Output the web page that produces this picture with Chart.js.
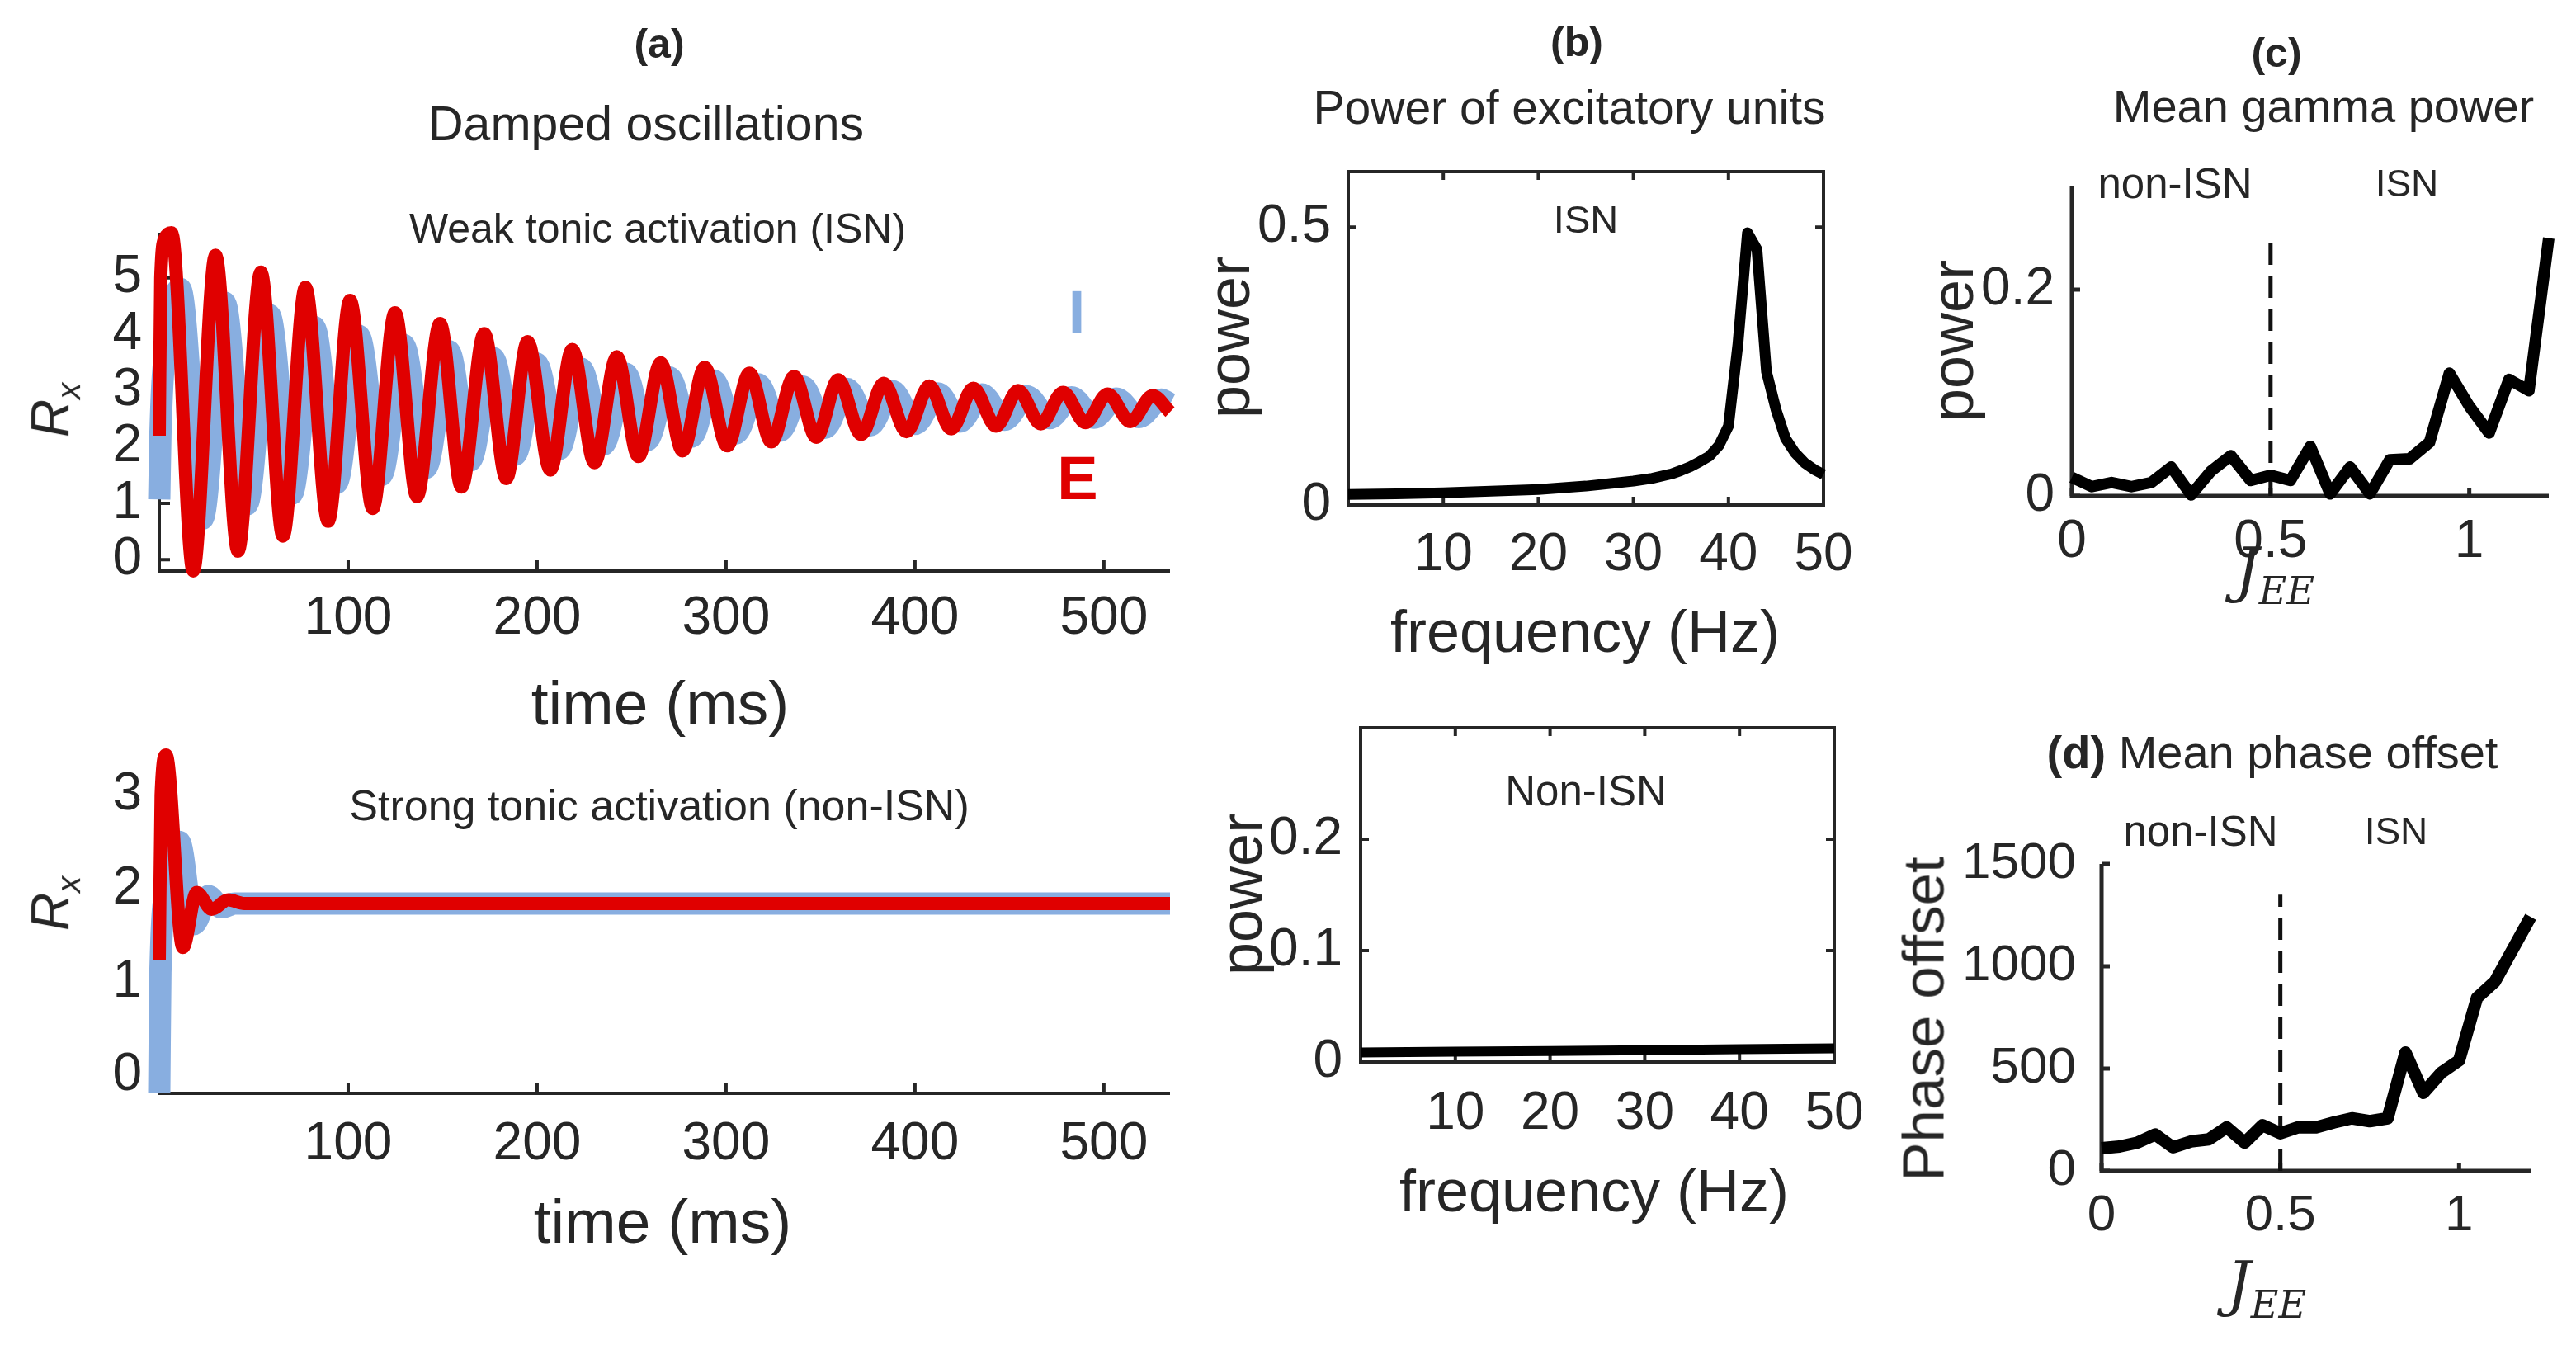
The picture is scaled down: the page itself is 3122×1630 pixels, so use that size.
<!DOCTYPE html>
<html>
<head>
<meta charset="utf-8">
<script src="https://cdn.jsdelivr.net/npm/chart.js@4.4.1/dist/chart.umd.min.js"></script>
<style>
  body { margin: 0; background: #fff; }
  #fig { position: relative; width: 3122px; height: 1630px; overflow: hidden;
         font-family: 'Liberation Sans', Arial, sans-serif; color: #262626; }
  canvas { position: absolute; }
  .t { position: absolute; transform: translate(-50%, -50%); white-space: nowrap; line-height: 1; }
  .rot { transform: translate(-50%, -50%) rotate(-90deg); }
  .j { font-family: 'DejaVu Serif', 'Liberation Serif', serif; font-style: italic; }
  sub { line-height: 1; }
</style>
</head>
<body>
<div id="fig">
  <canvas id="weak" width="1460" height="560" style="left:0;top:250px"></canvas>
  <canvas id="strong" width="1460" height="560" style="left:0;top:880px"></canvas>
  <canvas id="specISN" width="840" height="520" style="left:1440px;top:180px"></canvas>
  <canvas id="specNon" width="840" height="540" style="left:1440px;top:850px"></canvas>
  <canvas id="gamma" width="822" height="520" style="left:2300px;top:190px"></canvas>
  <canvas id="phase" width="822" height="520" style="left:2300px;top:1010px"></canvas>

  <!-- (a) -->
  <div class="t" style="left:799px;top:53px;font-size:50px;font-weight:bold">(a)</div>
  <div class="t" style="left:783px;top:150px;font-size:59px">Damped oscillations</div>
  <div class="t" style="left:797px;top:277px;font-size:50px">Weak tonic activation (ISN)</div>
  <div class="t" style="left:1305px;top:379px;font-size:74px;font-weight:bold;color:#88aee0">I</div>
  <div class="t" style="left:1306px;top:580px;font-size:74px;font-weight:bold;color:#e00000">E</div>
  <div class="t rot" style="left:66px;top:497px;font-size:64px"><i>R</i><sub style="font-size:40px"><i>x</i></sub></div>
  <div class="t" style="left:800px;top:852px;font-size:75px">time (ms)</div>
  <div class="t" style="left:799px;top:976px;font-size:52px">Strong tonic activation (non-ISN)</div>
  <div class="t rot" style="left:66px;top:1095px;font-size:64px"><i>R</i><sub style="font-size:40px"><i>x</i></sub></div>
  <div class="t" style="left:803px;top:1480px;font-size:75px">time (ms)</div>

  <!-- (b) -->
  <div class="t" style="left:1911px;top:51px;font-size:50px;font-weight:bold">(b)</div>
  <div class="t" style="left:1902px;top:130px;font-size:57px">Power of excitatory units</div>
  <div class="t" style="left:1922px;top:265px;font-size:47px">ISN</div>
  <div class="t rot" style="left:1489px;top:409px;font-size:72px">power</div>
  <div class="t" style="left:1921px;top:765px;font-size:72px">frequency (Hz)</div>
  <div class="t" style="left:1922px;top:958px;font-size:51px">Non-ISN</div>
  <div class="t rot" style="left:1504px;top:1084px;font-size:72px">power</div>
  <div class="t" style="left:1932px;top:1443px;font-size:72px">frequency (Hz)</div>

  <!-- (c) -->
  <div class="t" style="left:2759px;top:64px;font-size:50px;font-weight:bold">(c)</div>
  <div class="t" style="left:2816px;top:129px;font-size:56px">Mean gamma power</div>
  <div class="t" style="left:2636px;top:222px;font-size:51px">non-ISN</div>
  <div class="t" style="left:2917px;top:222px;font-size:46px">ISN</div>
  <div class="t rot" style="left:2366px;top:413px;font-size:72px">power</div>
  <div class="t j" style="left:2757px;top:697px;font-size:72px">J<sub style="font-size:46px">EE</sub></div>

  <!-- (d) -->
  <div class="t" style="left:2754px;top:912px;font-size:56px"><b>(d)</b> Mean phase offset</div>
  <div class="t" style="left:2667px;top:1007px;font-size:51px">non-ISN</div>
  <div class="t" style="left:2904px;top:1007px;font-size:46px">ISN</div>
  <div class="t rot" style="left:2331px;top:1235px;font-size:71px">Phase offset</div>
  <div class="t j" style="left:2747px;top:1562px;font-size:72px">J<sub style="font-size:46px">EE</sub></div>
</div>

<script>
// (a) weak tonic activation (ISN), peaks and troughs
const weakTimeE = [0, 0.8, 3, 6.5, 18, 29.8, 41.7, 53.8, 65.5, 77.4, 89.4, 101, 113, 124.8, 136.4, 148.6, 160, 172, 183.7, 195, 207, 218.6, 230.4, 242.2, 253.6, 265.4, 277, 288.7, 300.6, 312.4, 324, 336, 347.8, 359.4, 371.5, 383.5, 395.5, 407.6, 419.2, 430.9, 442.9, 454.6, 466.6, 478.4, 490.3, 502, 514, 525.8, 535]
const weakRateE = [2.2, 5.0, 5.7, 5.8, -0.2, 5.4, 0.15, 5.1, 0.42, 4.83, 0.68, 4.6, 0.91, 4.38, 1.12, 4.19, 1.29, 4.01, 1.44, 3.87, 1.59, 3.73, 1.72, 3.6, 1.83, 3.49, 1.93, 3.41, 2.02, 3.31, 2.09, 3.25, 2.17, 3.19, 2.22, 3.13, 2.27, 3.08, 2.32, 3.04, 2.37, 3.0, 2.41, 2.97, 2.43, 2.94, 2.45, 2.91, 2.62]
const weakTimeI = [0, 0.6, 4, 11, 22.8, 34.5, 46.3, 58.2, 70, 81.8, 93.7, 105.5, 117.4, 129.2, 141, 153.1, 164.5, 176.5, 188.2, 199.5, 211.5, 223.1, 234.9, 246.7, 258.1, 269.9, 281.5, 293.2, 305.1, 316.9, 328.5, 340.5, 352.3, 363.9, 376, 388, 400, 412.1, 423.7, 435.4, 447.4, 459.1, 471.1, 482.9, 494.8, 506.5, 518.5, 530.3, 535]
const weakRateI = [1.07, 2.2, 3.9, 4.8, 0.73, 4.56, 0.98, 4.34, 1.17, 4.13, 1.36, 3.97, 1.5, 3.81, 1.63, 3.70, 1.76, 3.58, 1.86, 3.48, 1.96, 3.39, 2.04, 3.30, 2.12, 3.23, 2.18, 3.18, 2.24, 3.11, 2.29, 3.07, 2.34, 3.03, 2.38, 2.99, 2.41, 2.95, 2.45, 2.93, 2.48, 2.90, 2.51, 2.88, 2.52, 2.86, 2.53, 2.84, 2.76]

// (a) strong tonic activation (non-ISN)
const strongTimeE = [0, 1, 3.6, 12.5, 19.8, 27.8, 36.5, 45, 535]
const strongRateE = [1.24, 3.0, 3.43, 1.37, 1.96, 1.78, 1.88, 1.84, 1.84]
const strongTimeI = [0, 0.6, 4, 10.5, 18.3, 26, 33, 40, 535]
const strongRateI = [-0.19, 1.1, 2.0, 2.5, 1.62, 1.92, 1.8, 1.84, 1.84]

const timeTicks = [100, 200, 300, 400, 500]
const weakRateTicks = [0, 1, 2, 3, 4, 5]
const strongRateTicks = [0, 1, 2, 3]

// (b) power spectra
const freqISN = [0, 5, 10, 15, 20, 25, 30, 32, 34, 35, 36, 37, 38, 39, 40, 41, 42, 43, 44, 45, 46, 47, 48, 49, 50]
const powerISN = [0.019, 0.020, 0.022, 0.025, 0.028, 0.034, 0.043, 0.048, 0.056, 0.062, 0.069, 0.078, 0.088, 0.107, 0.142, 0.29, 0.49, 0.46, 0.24, 0.172, 0.12, 0.094, 0.076, 0.064, 0.055]
const freqNonISN = [0, 10, 20, 30, 40, 50]
const powerNonISN = [0.0085, 0.0092, 0.0099, 0.0106, 0.0114, 0.0122]
const freqTicks = [10, 20, 30, 40, 50]
const powerTicksISN = [0, 0.5]
const powerTicksNon = [0, 0.1, 0.2]

// (c), (d) sweep over J_EE
const jee = [0, 0.05, 0.1, 0.15, 0.2, 0.25, 0.3, 0.35, 0.4, 0.45, 0.5, 0.55, 0.6, 0.65, 0.7, 0.75, 0.8, 0.85, 0.9, 0.95, 1.0, 1.05, 1.1, 1.15, 1.2]
const gammaPower = [0.018, 0.009, 0.013, 0.009, 0.013, 0.028, 0.001, 0.024, 0.039, 0.015, 0.02, 0.015, 0.048, 0.002, 0.028, 0.002, 0.035, 0.036, 0.052, 0.119, 0.087, 0.061, 0.113, 0.102, 0.25]
const phaseOffset = [111, 119, 138, 178, 115, 144, 154, 213, 138, 223, 184, 213, 213, 237, 257, 243, 257, 579, 381, 480, 540, 846, 925, 1083, 1241]
const jeeTicks = [0, 0.5, 1]
const gammaTicks = [0, 0.2]
const phaseTicks = [0, 500, 1000, 1500]
const boundaryJ = [0.5, 0.5]
const boundaryGamma = [0, 0.252]
const boundaryPhase = [0, 1350]

const RED = '#e00000'
const BLUE = '#88aee0'
const AXIS = '#262626'

// matlab style axes: inward ticks, optional box, drawn under the data
const matlabAxes = {
  id: 'matlabAxes',
  beforeDatasetsDraw(chart, args, opts) {
    const { ctx, chartArea: a, scales: { x, y } } = chart
    ctx.save()
    ctx.strokeStyle = AXIS
    ctx.lineWidth = opts.width
    ctx.beginPath()
    if (opts.box) {
      ctx.rect(a.left, a.top, a.right - a.left, a.bottom - a.top)
    } else {
      ctx.moveTo(a.left, a.top)
      ctx.lineTo(a.left, a.bottom)
      ctx.lineTo(a.right, a.bottom)
    }
    ctx.stroke()
    ctx.beginPath()
    x.ticks.forEach(t => {
      const px = x.getPixelForValue(t.value)
      ctx.moveTo(px, a.bottom)
      ctx.lineTo(px, a.bottom - opts.tickLen)
      if (opts.box) {
        ctx.moveTo(px, a.top)
        ctx.lineTo(px, a.top + opts.tickLen)
      }
    })
    y.ticks.forEach(t => {
      const py = y.getPixelForValue(t.value)
      ctx.moveTo(a.left, py)
      ctx.lineTo(a.left + opts.tickLen, py)
      if (opts.box) {
        ctx.moveTo(a.right, py)
        ctx.lineTo(a.right - opts.tickLen, py)
      }
    })
    ctx.stroke()
    ctx.restore()
  }
}

function series(xs, ys, color, width, extra) {
  return Object.assign({
    data: xs.map((x, i) => ({ x: x, y: ys[i] })),
    borderColor: color,
    borderWidth: width,
    pointRadius: 0,
    fill: false,
    clip: false,
    tension: 0,
    borderJoinStyle: 'round'
  }, extra || {})
}

// fixed size scale, no automatic label padding, so the plot box lands where it should
function fixSize(s, prop, size) {
  s[prop] = size
  s.paddingLeft = 0
  s.paddingRight = 0
  s.paddingTop = 0
  s.paddingBottom = 0
}

function scaleOpts(min, max, ticks, size, pad, fit) {
  return {
    type: 'linear',
    min: min,
    max: max,
    grid: { display: false, drawTicks: false },
    border: { display: false },
    ticks: { font: { size: size }, color: AXIS, padding: pad, maxRotation: 0, autoSkip: false, callback: v => String(v) },
    afterBuildTicks: s => { s.ticks = ticks.map(v => ({ value: v })) },
    afterFit: fit
  }
}

function axisChart(id, c) {
  return new Chart(document.getElementById(id), {
    type: 'line',
    data: { datasets: c.datasets },
    options: {
      animation: false,
      responsive: false,
      devicePixelRatio: 1,
      events: [],
      layout: { autoPadding: false, padding: { top: c.padTop, right: c.padRight, left: 0, bottom: 0 } },
      plugins: {
        legend: { display: false },
        tooltip: { enabled: false },
        matlabAxes: { box: c.box, tickLen: c.tickLen, width: c.axisWidth }
      },
      scales: {
        x: scaleOpts(c.x[0], c.x[1], c.xTicks, c.fontSize, c.xPad, s => fixSize(s, 'height', c.xHeight)),
        y: scaleOpts(c.y[0], c.y[1], c.yTicks, c.fontSize, c.yPad, s => fixSize(s, 'width', c.yWidth))
      }
    },
    plugins: [matlabAxes]
  })
}

Chart.defaults.font.family = "'Liberation Sans', Arial, sans-serif"
const smooth = { cubicInterpolationMode: 'monotone', tension: 0.4 }

axisChart('weak', {
  datasets: [
    series(weakTimeE, weakRateE, RED, 16, smooth),
    series(weakTimeI, weakRateI, BLUE, 27, smooth)
  ],
  x: [0, 535], y: [-0.2, 5.8], xTicks: timeTicks, yTicks: weakRateTicks,
  fontSize: 64, xPad: 20, yPad: 21, yWidth: 193, xHeight: 118, padTop: 32, padRight: 42,
  box: false, tickLen: 13, axisWidth: 4
})

axisChart('strong', {
  datasets: [
    series(strongTimeE, strongRateE, RED, 16, smooth),
    series(strongTimeI, strongRateI, BLUE, 27, smooth)
  ],
  x: [0, 535], y: [-0.19, 3.43], xTicks: timeTicks, yTicks: strongRateTicks,
  fontSize: 64, xPad: 24, yPad: 21, yWidth: 193, xHeight: 115, padTop: 35, padRight: 42,
  box: false, tickLen: 13, axisWidth: 4
})

axisChart('specISN', {
  datasets: [series(freqISN, powerISN, '#000', 13)],
  x: [0, 50], y: [0, 0.6], xTicks: freqTicks, yTicks: powerTicksISN,
  fontSize: 64, xPad: 23, yPad: 21, yWidth: 194, xHeight: 88, padTop: 28, padRight: 70,
  box: true, tickLen: 10, axisWidth: 4
})

axisChart('specNon', {
  datasets: [series(freqNonISN, powerNonISN, '#000', 12)],
  x: [0, 50], y: [0, 0.3], xTicks: freqTicks, yTicks: powerTicksNon,
  fontSize: 64, xPad: 25, yPad: 22, yWidth: 209, xHeight: 103, padTop: 32, padRight: 57,
  box: true, tickLen: 10, axisWidth: 4
})

axisChart('gamma', {
  datasets: [
    series(jee, gammaPower, '#000', 14),
    series(boundaryJ, boundaryGamma, '#111', 5, { borderDash: [26, 14] })
  ],
  x: [0, 1.2], y: [0, 0.3], xTicks: jeeTicks, yTicks: gammaTicks,
  fontSize: 64, xPad: 18, yPad: 21, yWidth: 211, xHeight: 109, padTop: 36, padRight: 33,
  box: false, tickLen: 10, axisWidth: 5
})

axisChart('phase', {
  datasets: [
    series(jee, phaseOffset, '#000', 15),
    series(boundaryJ, boundaryPhase, '#111', 5, { borderDash: [26, 14] })
  ],
  x: [0, 1.2], y: [0, 1500], xTicks: jeeTicks, yTicks: phaseTicks,
  fontSize: 62, xPad: 18, yPad: 31, yWidth: 247, xHeight: 111, padTop: 37, padRight: 55,
  box: false, tickLen: 10, axisWidth: 5
})
</script>
</body>
</html>
